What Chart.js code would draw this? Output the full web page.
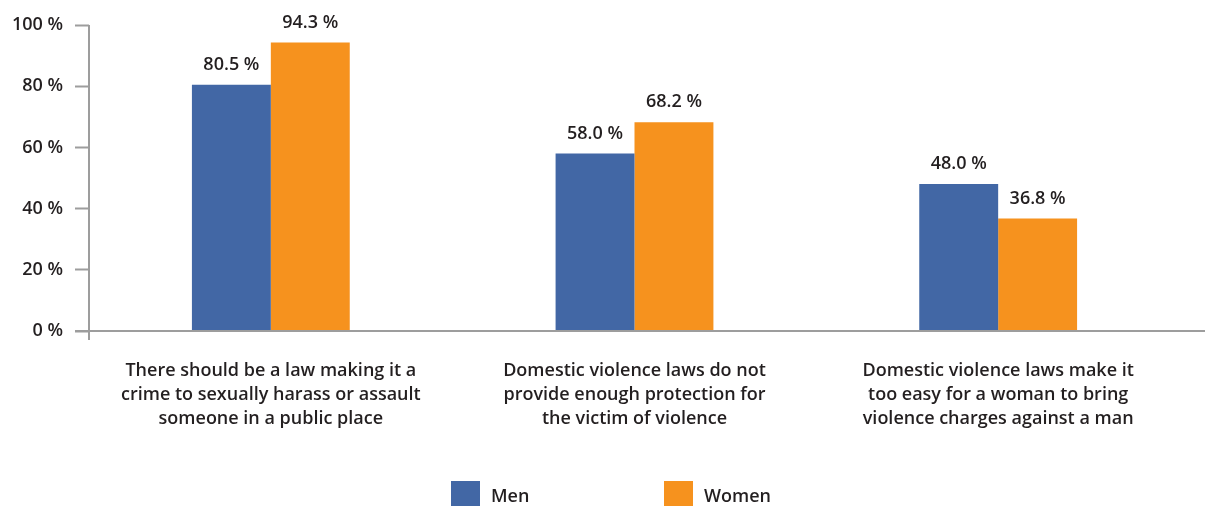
<!DOCTYPE html>
<html>
<head>
<meta charset="utf-8">
<script src="https://cdn.jsdelivr.net/npm/chart.js@4/dist/chart.umd.min.js"></script>
<style>
  html, body { margin: 0; padding: 0; background: #fff; overflow: hidden; }
  #wrap { width: 1206px; height: 506px; position: relative; }
</style>
</head>
<body>
<div id="wrap"><canvas id="attitudes"></canvas></div>
<script>
const questions = [
    ['There should be a law making it a', 'crime to sexually harass or assault', 'someone in a public place'],
    ['Domestic violence laws do not', 'provide enough protection for', 'the victim of violence'],
    ['Domestic violence laws make it', 'too easy for a woman to bring', 'violence charges against a man']
]
const men = [80.5, 58.0, 48.0]
const women = [94.3, 68.2, 36.8]
const yTicks = [0, 20, 40, 60, 80, 100]

const FONT = "'Open Sans', sans-serif"
const TEXT = '#231f20'
const AXIS = '#9d9d9d'
const BLUE = '#4267a5'
const ORANGE = '#f6921e'

// value above every bar, "80.5 %"
const barValues = {
    id: 'barValues',
    afterDatasetsDraw(chart) {
        const ctx = chart.ctx
        ctx.save()
        ctx.font = `600 18px ${FONT}`
        ctx.fillStyle = TEXT
        ctx.textAlign = 'center'
        ctx.textBaseline = 'middle'
        chart.data.datasets.forEach((ds, i) => {
            chart.getDatasetMeta(i).data.forEach((bar, j) => {
                ctx.fillText(ds.data[j].toFixed(1) + ' %', bar.x, bar.y - 20)
            })
        })
        ctx.restore()
    }
}

// axis lines: x runs to the right edge, y drops a little below zero
const axisLines = {
    id: 'axisLines',
    afterDraw(chart) {
        const ctx = chart.ctx
        const area = chart.chartArea
        const y0 = chart.scales.y.getPixelForValue(0)
        ctx.save()
        ctx.strokeStyle = AXIS
        ctx.lineWidth = 2
        ctx.beginPath()
        ctx.moveTo(area.left - 14, y0)
        ctx.lineTo(chart.width - 1, y0)
        ctx.moveTo(area.left, area.top)
        ctx.lineTo(area.left, y0 + 9)
        ctx.stroke()
        ctx.restore()
    }
}

// legend row under the category labels
const legendRow = {
    id: 'legendRow',
    afterDraw(chart) {
        const ctx = chart.ctx
        const left = 451, step = 213, top = 481, box = 29
        ctx.save()
        ctx.font = `600 18px ${FONT}`
        ctx.textBaseline = 'middle'
        chart.data.datasets.forEach((ds, i) => {
            const x = left + i * step
            ctx.fillStyle = ds.backgroundColor
            ctx.fillRect(x, top, box, box)
            ctx.fillStyle = TEXT
            ctx.fillText(ds.label, x + box + 11, top + 16)
        })
        ctx.restore()
    }
}

new Chart(document.getElementById('attitudes'), {
    type: 'bar',
    data: {
        labels: questions,
        datasets: [{
            label: 'Men',
            data: men,
            backgroundColor: BLUE,
            categoryPercentage: 0.434,
            barPercentage: 1
        }, {
            label: 'Women',
            data: women,
            backgroundColor: ORANGE,
            categoryPercentage: 0.434,
            barPercentage: 1
        }]
    },
    options: {
        responsive: true,
        maintainAspectRatio: false,
        animation: false,
        layout: { padding: { top: 25, right: 26, bottom: 0, left: 0 } },
        plugins: {
            legend: { display: false },
            tooltip: { enabled: false }
        },
        scales: {
            x: {
                grid: { display: false },
                border: { display: false },
                ticks: {
                    color: TEXT,
                    padding: 20,
                    maxRotation: 0,
                    autoSkip: false,
                    font: { family: FONT, size: 18, weight: 600, lineHeight: 24 / 18 }
                },
                afterFit(scale) { scale.height = 175 }
            },
            y: {
                min: 0,
                max: 100,
                afterBuildTicks(scale) { scale.ticks = yTicks.map(v => ({ value: v })) },
                grid: {
                    drawOnChartArea: false,
                    drawTicks: true,
                    tickLength: 14,
                    tickWidth: 2,
                    tickColor: AXIS
                },
                border: { display: false },
                ticks: {
                    color: TEXT,
                    padding: 12,
                    font: { family: FONT, size: 18, weight: 600 },
                    callback: v => v + ' %'
                },
                afterFit(scale) { scale.width = 89 }
            }
        }
    },
    plugins: [barValues, axisLines, legendRow]
})
</script>
</body>
</html>
